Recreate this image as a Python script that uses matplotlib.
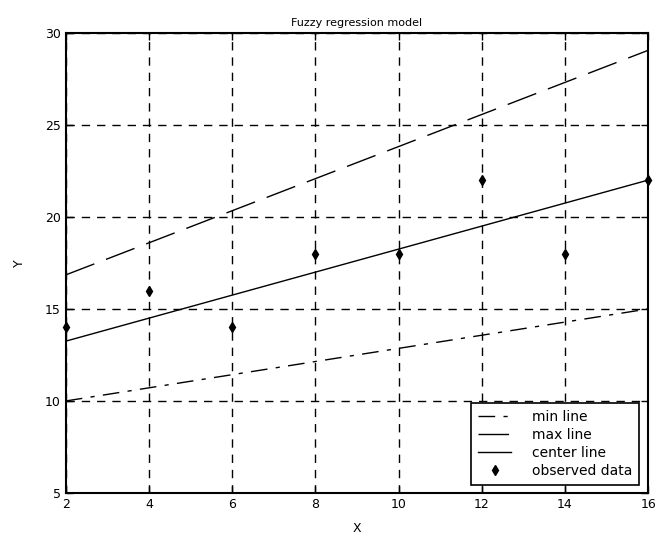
import matplotlib
matplotlib.use("Agg")
import matplotlib.pyplot as plt

# Data
line_x = [2, 16]
min_line = [10.0, 15.0]
max_line = [16.85, 29.05]
center_line = [13.25, 22.0]

obs_x = [2, 4, 6, 8, 10, 12, 14, 16]
obs_y = [14, 16, 14, 18, 18, 22, 18, 22]

x_ticks = [2, 4, 6, 8, 10, 12, 14, 16]
y_ticks = [5, 10, 15, 20, 25, 30]

plt.rcParams['font.family'] = ['DejaVu Sans']

fig = plt.figure(figsize=(6.58, 5.42), dpi=100)
ax = fig.add_axes([0.100, 0.0904, 0.885, 0.849])

ax.plot(line_x, min_line, color='black', lw=1.0, linestyle=(0, (12, 6, 3, 6)), label='min line')
ax.plot(line_x, max_line, color='black', lw=1.0, linestyle=(0, (22, 9)), label='max line')
ax.plot(line_x, center_line, color='black', lw=1.0, linestyle='-', label='center line')
ax.plot(obs_x, obs_y, linestyle='none', marker='d', color='black', markersize=5,
        label='observed data', clip_on=False)

ax.set_xlim(2, 16)
ax.set_ylim(5, 30)
ax.set_xticks(x_ticks)
ax.set_yticks(y_ticks)
ax.grid(True, color='black', linestyle=(0, (6, 5)), linewidth=1.0)
ax.tick_params(direction='in', top=True, right=True, length=5, width=1, labelsize=9)
for s in ax.spines.values():
    s.set_linewidth(1.5)

ax.set_title('Fuzzy regression model', fontsize=8, pad=5)
ax.set_xlabel('X', fontsize=9, labelpad=8)
ax.set_ylabel('Y', fontsize=9, labelpad=14, rotation=90)

leg = ax.legend(loc='lower right', fontsize=10, frameon=True, fancybox=False,
                edgecolor='black', framealpha=1, handlelength=2.4, borderpad=0.5,
                labelspacing=0.3, handletextpad=1.5, borderaxespad=0,
                bbox_to_anchor=(0.985, 0.017))
leg.get_frame().set_linewidth(1.2)

fig.savefig('out.png', dpi=100)
